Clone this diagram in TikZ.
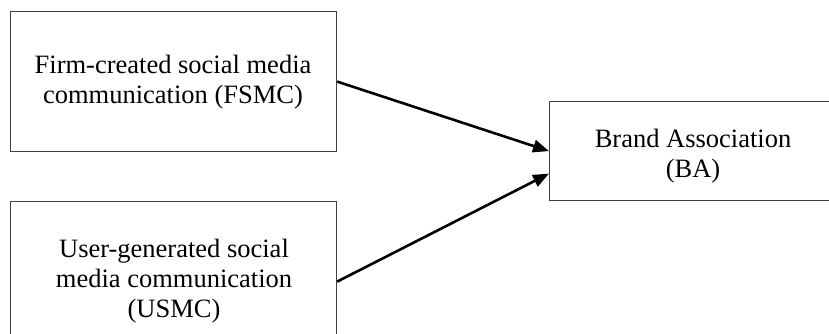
\documentclass[tikz,border=0pt]{standalone}
\usepackage{fontspec}
\setmainfont{Liberation Serif}
\usetikzlibrary{arrows.meta,calc}
\begin{document}
\begin{tikzpicture}[x=1pt,y=-1pt,
  boxnode/.style={draw=black!75,line width=1.2pt,rectangle,inner sep=0pt,anchor=north west},
  txt/.style={align=center,font=\fontsize{26.5}{30}\selectfont,inner sep=0pt},
  arr/.style={line width=2.6pt,-{Triangle[length=16pt,width=12.5pt]}}]
\useasboundingbox (0,0) rectangle (829,333);
\clip (0,0) rectangle (829,333);
\node[boxnode,minimum width=326pt,minimum height=140pt] (fsmc) at (10,11) {};
\node[boxnode,minimum width=326pt,minimum height=160pt] (usmc) at (10,201) {};
\node[boxnode,minimum width=400pt,minimum height=99pt] (ba) at (549,101) {};
\node[txt] (fsmct) at (173,82.3) {Firm-created social media\\communication (FSMC)};
\node[txt] (usmct) at (174,281.1) {User-generated social\\media communication\\(USMC)};
\node[txt] (bat) at (693,156.2) {Brand Association\\(BA)};
\coordinate (balow) at ($(ba.west)+(0,22.5)$);
\draw[arr] (fsmc.east) -- (ba.west);
\draw[arr] (usmc.east) -- (balow);
\end{tikzpicture}
\end{document}
